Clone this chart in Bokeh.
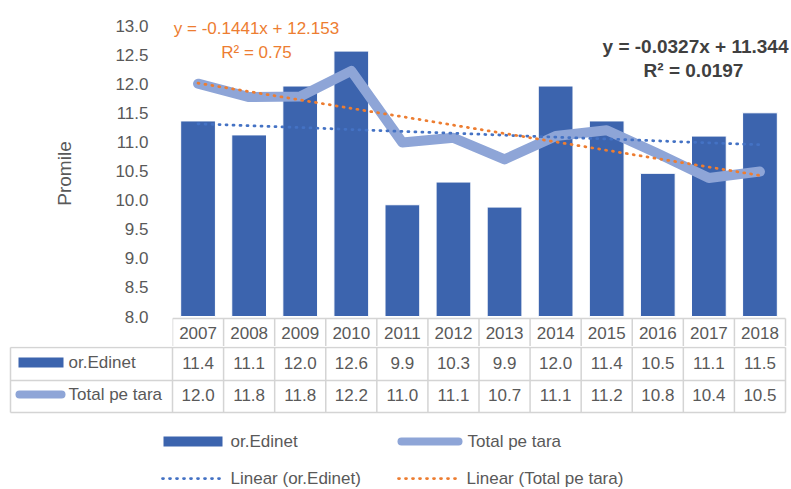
import numpy as np
from bokeh.plotting import figure
from bokeh.models import Range1d, FixedTicker, NumeralTickFormatter, Label
from bokeh.embed import file_html
from bokeh.resources import INLINE
from bokeh.core.properties import value

# ---------------- data ----------------
years = ["2007", "2008", "2009", "2010", "2011", "2012",
         "2013", "2014", "2015", "2016", "2017", "2018"]
edinet = [11.36, 11.12, 11.96, 12.56, 9.92, 10.31, 9.88, 11.96, 11.36, 10.46, 11.10, 11.50]
total = [12.00, 11.77, 11.78, 12.22, 10.99, 11.07, 10.70, 11.10, 11.20, 10.80, 10.38, 10.49]
y_ticks = [8.0, 8.5, 9.0, 9.5, 10.0, 10.5, 11.0, 11.5, 12.0, 12.5, 13.0]
trend_edinet = (-0.0327, 11.344)   # slope, intercept (x = 1..12)
trend_total = (-0.1441, 12.153)
eq_total = ["y = -0.1441x + 12.153", "R\u00b2 = 0.75"]
eq_edinet = ["y = -0.0327x + 11.344", "R\u00b2 = 0.0197"]
names = ["or.Edinet", "Total pe tara", "Linear (or.Edinet)", "Linear (Total pe tara)"]

# ---------------- style ----------------
FONT = "Liberation Sans"
TXT = "#595959"
BAR = "#3C64AE"
LINE = "#8EA5D7"
BLUE = "#4472C4"
ORANGE = "#ED7D31"
GRIDC = "#D4D4D4"
FS = "17px"

W = 789
LEFT = 172                 # frame starts at page x 172
cat_w = 613 / 12           # px per category
x_end = 12.5 + (W - LEFT - 613) / cat_w
pxu = 58.2                 # px per unit on the value axis
y_top = 13.0 + 25 / pxu    # page y 0
A_h = 346                  # chart ends at page y 346
y_bot = y_top - A_h / pxu
B_h = 142

def ax(px):   # page x -> data x
    return 0.5 + (px - 172) / cat_w

def ay(py):   # page y -> chart data y
    return y_top - py / pxu

def by(py):   # page y -> table data y
    return py - A_h

xs = list(range(1, len(years) + 1))

# ---------------- chart ----------------
p = figure(width=W, height=A_h, x_range=Range1d(0.5, x_end), y_range=Range1d(y_bot, y_top),
           output_backend="svg", toolbar_location=None, x_axis_location=None,
           min_border_left=LEFT, min_border_right=0, min_border_top=0, min_border_bottom=0)
p.outline_line_color = None
p.xgrid.visible = False
p.ygrid.visible = False
ya = p.yaxis[0]
ya.ticker = FixedTicker(ticks=y_ticks)
ya.formatter = NumeralTickFormatter(format="0.0")
ya.axis_line_color = None
ya.major_tick_line_color = None
ya.minor_tick_line_color = None
ya.major_label_standoff = 18
ya.major_label_text_font = FONT
ya.major_label_text_font_size = FS
ya.major_label_text_color = TXT
ya.axis_label = "Promile"
ya.axis_label_text_font = FONT
ya.axis_label_text_font_size = "19px"
ya.axis_label_text_font_style = "normal"
ya.axis_label_text_color = TXT
ya.axis_label_standoff = 37

p.vbar(x=xs, top=edinet, bottom=8.0, width=0.68, fill_color=BAR, line_color="white", line_width=1)
p.line(xs, total, line_width=10, line_color=LINE, line_cap="round", line_join="round")
xa = np.array(xs, dtype=float)
p.line(xa, trend_edinet[0] * xa + trend_edinet[1], line_color=BLUE, line_width=2.75,
       line_dash="1 6", line_cap="round")
p.line(xa, trend_total[0] * xa + trend_total[1], line_color=ORANGE, line_width=2.75,
       line_dash="1 6", line_cap="round")

# equations
for txt, py in zip(eq_total, [28, 52]):
    p.add_layout(Label(x=ax(256), y=ay(py), text=txt, text_align="center", text_baseline="middle",
                       text_font=FONT, text_font_size="17px", text_color=ORANGE))
p.add_layout(Label(x=ax(788), y=ay(46), text=eq_edinet[0], text_align="right",
                   text_baseline="middle", text_font=FONT, text_font_size="19px",
                   text_color="#404040", text_font_style="bold"))
p.add_layout(Label(x=ax(693), y=ay(70), text=eq_edinet[1], text_align="center",
                   text_baseline="middle", text_font=FONT, text_font_size="19px",
                   text_color="#404040", text_font_style="bold"))

# table header row (years)
edges = [0.5 + k for k in range(len(years) + 1)]
yh = ay(318)
p.segment(x0=[0.5], y0=[yh], x1=[12.5], y1=[yh], line_color=GRIDC, line_width=1.5)
p.segment(x0=edges, y0=[yh] * len(edges), x1=edges, y1=[y_bot] * len(edges),
          line_color=GRIDC, line_width=1.5)
p.text(x=xs, y=[ay(332)] * len(xs), text=years, text_align="center", text_baseline="middle",
       text_font=value(FONT), text_font_size=FS, text_color=TXT)

# ---------------- table rows + legend ----------------
q = figure(width=W, height=B_h, x_range=Range1d(0.5 - LEFT / cat_w, x_end),
           y_range=Range1d(B_h, 0), output_backend="svg", toolbar_location=None,
           x_axis_location=None, y_axis_location=None, min_border=0)
q.outline_line_color = None
q.xgrid.visible = False
q.ygrid.visible = False

xl = ax(10)
rows_y = [by(347), by(380), by(412)]
q.segment(x0=[xl] * 3, y0=rows_y, x1=[12.5] * 3, y1=rows_y, line_color=GRIDC, line_width=1.5)
vx = [xl] + edges
q.segment(x0=vx, y0=[rows_y[0]] * len(vx), x1=vx, y1=[rows_y[-1]] * len(vx),
          line_color=GRIDC, line_width=1.5)

r1, r2 = by(362), by(394)
q.quad(left=[ax(18)], right=[ax(63)], top=[r1 - 5], bottom=[r1 + 5], fill_color=BAR, line_color=None)
q.line([ax(19), ax(61)], [r2, r2], line_width=8, line_color=LINE, line_cap="round")
q.text(x=[ax(68), ax(68)], y=[r1, r2], text=names[:2], text_align="left", text_baseline="middle",
       text_font=value(FONT), text_font_size=FS, text_color=TXT)
q.text(x=xs, y=[r1] * len(xs), text=["%.1f" % v for v in edinet], text_align="center",
       text_baseline="middle", text_font=value(FONT), text_font_size=FS, text_color=TXT)
q.text(x=xs, y=[r2] * len(xs), text=["%.1f" % v for v in total], text_align="center",
       text_baseline="middle", text_font=value(FONT), text_font_size=FS, text_color=TXT)

# legend
l1, l2 = by(441), by(478)
q.quad(left=[ax(163)], right=[ax(222)], top=[l1 - 5], bottom=[l1 + 5], fill_color=BAR, line_color=None)
q.line([ax(401), ax(458)], [l1, l1], line_width=8, line_color=LINE, line_cap="round")
q.line([ax(162), ax(220)], [l2, l2], line_width=2.75, line_color=BLUE, line_dash="1 6", line_cap="round")
q.line([ax(398), ax(457)], [l2, l2], line_width=2.75, line_color=ORANGE, line_dash="1 6", line_cap="round")
q.text(x=[ax(230), ax(467), ax(230), ax(466)], y=[l1, l1, l2, l2], text=names,
       text_align="left", text_baseline="middle", text_font=value(FONT), text_font_size=FS,
       text_color=TXT)

open("out.html", "w").write(file_html([p, q], INLINE))
